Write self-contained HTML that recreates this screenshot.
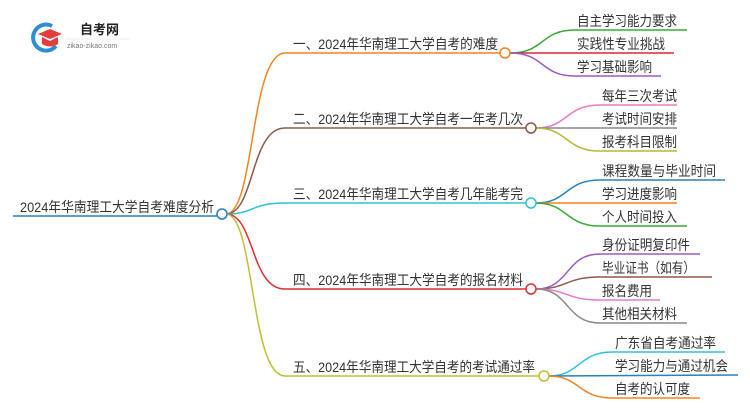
<!DOCTYPE html>
<html><head><meta charset="utf-8"><style>
body{margin:0;background:#fff;}
svg text{font-family:"Liberation Sans","Noto Sans CJK SC",sans-serif;fill:#333;}
</style></head><body>
<svg width="750" height="410" viewBox="0 0 750 410" xmlns="http://www.w3.org/2000/svg">
<path d="M52 26 A13 13 0 1 0 56 46" fill="none" stroke="#2b8fd8" stroke-width="4"/>
<path d="M38 34 L50 29 L62 34 L50 39 Z" fill="#e43c3c"/>
<path d="M42 37 L42 44 Q50 49 58 44 L58 37 L50 41 Z" fill="#e43c3c"/>
<text x="80" y="34" font-size="13" font-weight="bold" style="fill:#222">自考网</text>
<text x="67" y="48" font-size="7" style="fill:#777">zikao-zikao.com</text>
<line x1="66" y1="39" x2="130" y2="39" stroke="#ddd" stroke-width="0.5"/>
<g fill="none" stroke-width="1.5">
<line x1="13" y1="216" x2="218" y2="216" stroke="#2a7fc0"/>
<path d="M226 214 C255 214 250 53 285 53 L500 53" stroke="#f58220"/>
<path d="M226 214 C255 214 250 128 285 128 L526 128" stroke="#8b5a4a"/>
<path d="M226 214 C255 214 250 203 285 203 L526 203" stroke="#2bc4d8"/>
<path d="M226 214 C255 214 250 289 285 289 L526 289" stroke="#e03030"/>
<path d="M226 214 C255 214 250 376 285 376 L539 376" stroke="#bfc030"/>
<path d="M510 53 C545 53 540 30 575 30 L687 30" stroke="#3aaa3a"/>
<path d="M510 53 L674 53" stroke="#d8283a"/>
<path d="M510 53 C545 53 540 76 575 76 L661 76" stroke="#9a5cc8"/>
<path d="M536 128 C568 128 565 105 600 105 L677 105" stroke="#e87ac8"/>
<path d="M536 128 L677 128" stroke="#888"/>
<path d="M536 128 C568 128 565 151 600 151 L677 151" stroke="#b8b830"/>
<path d="M536 203 C568 203 565 180 600 180 L725 180" stroke="#2a7fc0"/>
<path d="M536 203 L677 203" stroke="#f58220"/>
<path d="M536 203 C568 203 565 226 600 226 L687 226" stroke="#3aaa3a"/>
<path d="M536 289 C570 289 565 254 600 254 L700 254" stroke="#9a5cc8"/>
<path d="M536 289 C568 289 565 277 600 277 L712 277" stroke="#8b5a4a"/>
<path d="M536 289 C568 289 565 300 600 300 L660 300" stroke="#e87ac8"/>
<path d="M536 289 C570 289 565 323 600 323 L687 323" stroke="#888"/>
<path d="M549 376 C580 376 578 352 612 352 L725 352" stroke="#2bc4d8"/>
<path d="M549 376 L738 375" stroke="#2a7fc0"/>
<path d="M549 376 C580 376 578 398 612 398 L700 398" stroke="#f58220"/>
</g>
<g fill="#fff" stroke-width="1.5">
<circle cx="222" cy="214" r="5" stroke="#2a7fc0"/>
<circle cx="505" cy="53" r="5" stroke="#f58220"/>
<circle cx="531" cy="128" r="5" stroke="#8b5a4a"/>
<circle cx="531" cy="203" r="5" stroke="#2bc4d8"/>
<circle cx="531" cy="289" r="5" stroke="#e03030"/>
<circle cx="544" cy="376" r="5" stroke="#bfc030"/>
</g>
<g font-size="14">
<text x="20" y="212" textLength="194" lengthAdjust="spacingAndGlyphs">2024年华南理工大学自考难度分析</text>
<text x="293" y="49" textLength="205" lengthAdjust="spacingAndGlyphs">一、2024年华南理工大学自考的难度</text>
<text x="293" y="124" textLength="230" lengthAdjust="spacingAndGlyphs">二、2024年华南理工大学自考一年考几次</text>
<text x="293" y="199" textLength="230" lengthAdjust="spacingAndGlyphs">三、2024年华南理工大学自考几年能考完</text>
<text x="293" y="285" textLength="230" lengthAdjust="spacingAndGlyphs">四、2024年华南理工大学自考的报名材料</text>
<text x="293" y="372" textLength="242" lengthAdjust="spacingAndGlyphs">五、2024年华南理工大学自考的考试通过率</text>
<text x="577" y="26" textLength="100" lengthAdjust="spacingAndGlyphs">自主学习能力要求</text>
<text x="577" y="49" textLength="88" lengthAdjust="spacingAndGlyphs">实践性专业挑战</text>
<text x="577" y="72" textLength="75" lengthAdjust="spacingAndGlyphs">学习基础影响</text>
<text x="602" y="101" textLength="75" lengthAdjust="spacingAndGlyphs">每年三次考试</text>
<text x="602" y="124" textLength="75" lengthAdjust="spacingAndGlyphs">考试时间安排</text>
<text x="602" y="147" textLength="75" lengthAdjust="spacingAndGlyphs">报考科目限制</text>
<text x="602" y="176" textLength="114" lengthAdjust="spacingAndGlyphs">课程数量与毕业时间</text>
<text x="602" y="199" textLength="75" lengthAdjust="spacingAndGlyphs">学习进度影响</text>
<text x="602" y="222" textLength="75" lengthAdjust="spacingAndGlyphs">个人时间投入</text>
<text x="602" y="250" textLength="88" lengthAdjust="spacingAndGlyphs">身份证明复印件</text>
<text x="602" y="273" textLength="93" lengthAdjust="spacingAndGlyphs">毕业证书（如有）</text>
<text x="602" y="296" textLength="50" lengthAdjust="spacingAndGlyphs">报名费用</text>
<text x="602" y="319" textLength="75" lengthAdjust="spacingAndGlyphs">其他相关材料</text>
<text x="615" y="348" textLength="101" lengthAdjust="spacingAndGlyphs">广东省自考通过率</text>
<text x="615" y="371" textLength="113" lengthAdjust="spacingAndGlyphs">学习能力与通过机会</text>
<text x="615" y="394" textLength="75" lengthAdjust="spacingAndGlyphs">自考的认可度</text>
</g>
</svg>
</body></html>
